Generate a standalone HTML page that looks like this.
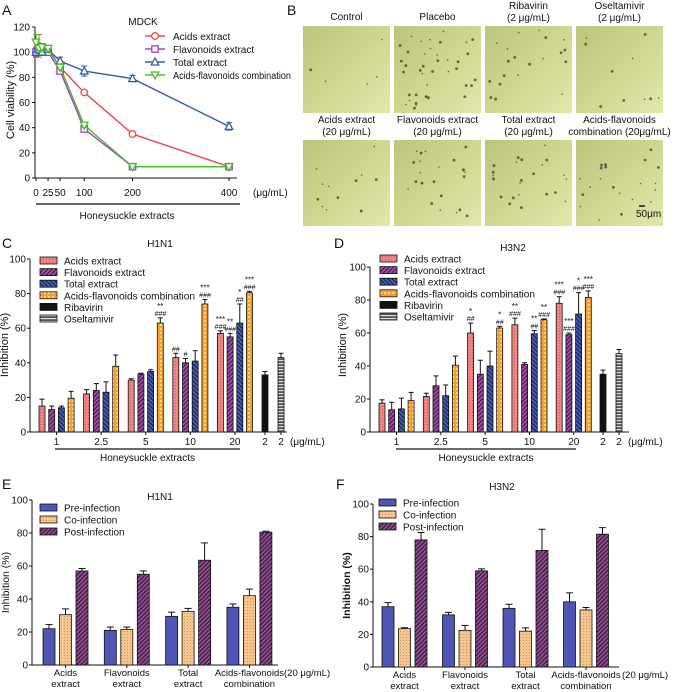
<!DOCTYPE html>
<html><head><meta charset="utf-8">
<style>
html,body{margin:0;padding:0;background:#fff;}
svg{display:block;font-family:"Liberation Sans",sans-serif;}
</style></head>
<body>
<svg id="fig" width="676" height="692" viewBox="0 0 676 692" xmlns="http://www.w3.org/2000/svg">
<defs>
  <pattern id="pDots" width="3" height="3" patternUnits="userSpaceOnUse"><rect width="3" height="3" fill="#f08585"/><circle cx="1.5" cy="1.5" r="0.5" fill="#c05050"/></pattern>
  <pattern id="pFlav" width="3" height="3" patternUnits="userSpaceOnUse" patternTransform="rotate(45)"><rect width="3" height="3" fill="#5a1f5e"/><rect width="1.3" height="3" fill="#b060b0"/></pattern>
  <pattern id="pTotal" width="3" height="3" patternUnits="userSpaceOnUse" patternTransform="rotate(-45)"><rect width="3" height="3" fill="#1e2d6a"/><rect width="1.2" height="3" fill="#5a70c0"/></pattern>
  <pattern id="pCombo" width="4" height="4" patternUnits="userSpaceOnUse"><rect width="4" height="4" fill="#f3a030"/><rect x="0" y="0" width="2" height="2" fill="#fcd68a"/></pattern>
  <pattern id="pOsel" width="3" height="3" patternUnits="userSpaceOnUse"><rect width="3" height="3" fill="#555"/><rect width="3" height="1.2" fill="#ddd"/></pattern>
  <pattern id="pCo" width="3" height="3" patternUnits="userSpaceOnUse"><rect width="3" height="3" fill="#f7c590"/><circle cx="1.5" cy="1.5" r="0.5" fill="#c0844a"/></pattern>
  <pattern id="pPost" width="3" height="3" patternUnits="userSpaceOnUse" patternTransform="rotate(45)"><rect width="3" height="3" fill="#4e1f50"/><rect width="1.2" height="3" fill="#a060a0"/></pattern>
  <linearGradient id="gImg" x1="0" y1="0" x2="1" y2="1"><stop offset="0" stop-color="#bcc57c"/><stop offset="0.6" stop-color="#d3da95"/><stop offset="1" stop-color="#e2e8ab"/></linearGradient>
</defs>
</svg>
<script>
// ---------- Panel A data ----------
const aDoses = [0, 6.25, 12.5, 25, 50, 100, 200, 400];
const aAcids = [100, 105, 102, 102, 88, 68, 35, 9];
const aAcidsErr = [4, 9, 3, 3, 2, 1.5, 1.5, 1];
const aFlav = [100, 100, 100, 100, 85, 39, 9, 9];
const aFlavErr = [3, 2, 2, 2, 2, 2, 1, 1];
const aTotal = [100, 102, 100, 102, 93, 85, 79, 41];
const aTotalErr = [3, 3, 2, 2, 3, 4, 2.5, 3];
const aCombo = [108, 103, 104, 103, 88, 42, 9, 9];
const aComboErr = [6, 3, 3, 2, 2, 2, 1, 1];
const aTickVals = [0, 25, 50, 100, 200, 400];
const aYTicks = [0, 20, 40, 60, 80, 100, 120];

// ---------- Panel C / D data ----------
const cdCats = ["1", "2.5", "5", "10", "20"];
const cAcids = [15, 22, 30, 43, 57];
const cAcidsErr = [4, 2.5, 0.8, 2.5, 1.5];
const cFlav = [13, 24, 33.5, 40, 55];
const cFlavErr = [2, 4, 0.5, 2.5, 2];
const cTotal = [14, 23, 35, 41, 63];
const cTotalErr = [1, 6, 1, 6, 11];
const cCombo = [19.5, 38, 63, 74, 80.5];
const cComboErr = [4, 6.5, 3, 2.5, 0.8];
const cRib = 33, cRibErr = 2;
const cOsel = 43, cOselErr = 2.5;
const cStars = [["","","",""],["","","",""],["","","","**"],["","","","***"],["***","**","*","***"]];
const cHash = [["","","",""],["","","",""],["","","","###"],["##","#","","###"],["###","###","##","###"]];

const dAcids = [17.5, 21.5, 60, 65, 78];
const dAcidsErr = [2, 2, 6, 4, 4];
const dFlav = [13.5, 28, 35, 41, 59];
const dFlavErr = [4.5, 6, 8.5, 1, 1];
const dTotal = [14, 22, 40, 59.5, 71.5];
const dTotalErr = [6.5, 6.5, 9, 2, 13];
const dCombo = [19, 40.5, 63, 68, 81.5];
const dComboErr = [5, 5.5, 1, 0.5, 4];
const dRib = 35, dRibErr = 2.5;
const dOsel = 47.5, dOselErr = 2.5;
const dStars = [["","","",""],["","","",""],["*","","","*"],["**","","**","**"],["***","***","*","***"]];
const dHash = [["","","",""],["","","",""],["##","","","##"],["###","","##","###"],["###","###","###","###"]];
const cdYTicks = [0, 20, 40, 60, 80, 100];

// ---------- Panel E / F data ----------
const efCats = [["Acids","extract"],["Flavonoids","extract"],["Total","extract"],["Acids-flavonoids","combination"]];
const ePre = [22, 21, 29.5, 35];
const ePreErr = [2.5, 2, 2.5, 2];
const eCo = [30.5, 21.5, 32.5, 42];
const eCoErr = [3.5, 1.5, 1.8, 4];
const ePost = [57, 55, 63.5, 80.5];
const ePostErr = [1.5, 2, 10.5, 0.6];
const fPre = [37, 32, 36, 40];
const fPreErr = [2.5, 1.5, 2.5, 5.5];
const fCo = [23.5, 22.5, 22, 35];
const fCoErr = [0.6, 3, 2, 1.5];
const fPost = [78, 59, 71.5, 81.5];
const fPostErr = [4.5, 1.2, 13, 4];

const NS = "http://www.w3.org/2000/svg";
const svg = document.getElementById("fig");
function el(tag, attrs, parent) {
  const e = document.createElementNS(NS, tag);
  for (const k in attrs) e.setAttribute(k, attrs[k]);
  (parent || svg).appendChild(e);
  return e;
}
function txt(x, y, s, size, anchor, parent, extra) {
  const t = el("text", Object.assign({x: x, y: y, "font-size": size, "text-anchor": anchor || "start", fill: "#111"}, extra || {}), parent);
  t.textContent = s;
  return t;
}
function group(name) {
  const g = el("g", {});
  
  
  return g;
}
function errBar(g, x, yTop, yErr, cap, color) {
  el("line", {x1: x, y1: yTop, x2: x, y2: yErr, stroke: color || "#111", "stroke-width": 1}, g);
  el("line", {x1: x - cap, y1: yErr, x2: x + cap, y2: yErr, stroke: color || "#111", "stroke-width": 1}, g);
}

// ---------- Panel letters ----------
[["A",2,15],["B",287,15],["C",2,248],["D",334,248],["E",2,489],["F",336,489]].forEach(p => {
  const t = txt(p[1], p[2], p[0], 14, "start");
  
  
});

// ---------- Panel A ----------
(function () {
  const g = group("panel-a-line-chart");
  const x0 = 36, xs = 193 / 400, y0 = 178, ys = 151 / 120;
  const X = v => x0 + v * xs, Y = v => y0 - v * ys;
  const ax = el("g", {}, g);
  
  
  el("line", {x1: 35, y1: Y(120), x2: 35, y2: y0, stroke: "#111"}, ax);
  aYTicks.forEach(v => {
    el("line", {x1: 32, y1: Y(v), x2: 35, y2: Y(v), stroke: "#111"}, ax);
    txt(30, Y(v) + 3.5, String(v), 10, "end", ax);
  });
  const t = txt(14, 100, "Cell viability (%)", 11, "middle", g, {transform: "rotate(-90 14 100)"});
  
  
  const xa = el("g", {}, g);
  
  
  el("line", {x1: 35, y1: y0, x2: X(400) + 8, y2: y0, stroke: "#111"}, xa);
  aTickVals.forEach(v => {
    el("line", {x1: X(v), y1: y0, x2: X(v), y2: y0 + 3, stroke: "#111"}, xa);
    txt(X(v), 196, String(v), 10, "middle", xa);
  });
  txt(253, 196, "(μg/mL)", 10, "start", xa);
  el("line", {x1: 36, y1: 204, x2: 240, y2: 204, stroke: "#111", "stroke-width": 1.2}, xa);
  txt(127, 219, "Honeysuckle extracts", 10, "middle", xa);
  const tt = txt(143, 25, "MDCK", 10, "middle", g);
  
  
  const series = [
    ["acids-extract", "Acids extract", aAcids, aAcidsErr, "#f04848", "circle", 0],
    ["flavonoids-extract", "Flavonoids extract", aFlav, aFlavErr, "#a640d0", "square", 0],
    ["total-extract", "Total extract", aTotal, aTotalErr, "#3a5cb0", "tri", 0],
    ["acids-flavonoids-combination", "Acids-flavonoids combination", aCombo, aComboErr, "#48c028", "tridown", 118]
  ];
  function marker(p, x, y, shape, c) {
    if (shape === "circle") return el("circle", {cx: x, cy: y, r: 3.3, fill: "#fff", stroke: c, "stroke-width": 1.3}, p);
    if (shape === "square") return el("rect", {x: x - 3.2, y: y - 3.2, width: 6.4, height: 6.4, fill: "#fff", stroke: c, "stroke-width": 1.3}, p);
    if (shape === "tri") return el("polygon", {points: `${x},${y-4} ${x-3.8},${y+3} ${x+3.8},${y+3}`, fill: "#fff", stroke: c, "stroke-width": 1.3}, p);
    return el("polygon", {points: `${x},${y+4} ${x-3.8},${y-3} ${x+3.8},${y-3}`, fill: "#fff", stroke: c, "stroke-width": 1.3}, p);
  }
  series.forEach((s, si) => {
    const sg = el("g", {}, g);
    
    
    const pts = aDoses.map((d, i) => X(d) + "," + Y(s[2][i])).join(" ");
    el("polyline", {points: pts, fill: "none", stroke: s[4], "stroke-width": 1.4}, sg);
    aDoses.forEach((d, i) => {
      errBar(sg, X(d), Y(s[2][i]), Y(s[2][i] + s[3][i]), 3, s[4]);
      errBar(sg, X(d), Y(s[2][i]), Y(s[2][i] - s[3][i]), 3, s[4]);
      const m = marker(sg, X(d), Y(s[2][i]), s[5], s[4]);
      
      
    });
    const lg = el("g", {}, g);
    
    
    const ly = 36 + si * 13;
    el("line", {x1: 145, y1: ly, x2: 165, y2: ly, stroke: s[4], "stroke-width": 1.4}, lg);
    marker(lg, 155, ly, s[5], s[4]);
    const ex = s[6] ? {textLength: s[6], lengthAdjust: "spacingAndGlyphs"} : {};
    txt(173, ly + 4, s[1], 10, "start", lg, ex);
  });
})();

// ---------- Panel B ----------
(function () {
  const g = group("panel-b-micrographs");
  const cols = [303, 394, 485, 576];
  const w = 87;
  const rows = [[26, 113], [140, 226]];
  const labels = [
    [["Control"], ["Placebo"], ["Ribavirin", "(2 μg/mL)"], ["Oseltamivir", "(2 μg/mL)"]],
    [["Acids extract", "(20 μg/mL)"], ["Flavonoids  extract", "(20 μg/mL)"], ["Total extract", "(20 μg/mL)"], ["Acids-flavonoids", "combination (20μg/mL)"]]
  ];
  const spots = [[3, 40, 4, 1], [5, 25, 16, 24], [3, 35, 8, 12], [2, 30, 4, 6], [2, 35, 7, 5], [3, 30, 10, 13], [3, 30, 9, 14], [5, 20, 11, 10]];
  let k = 0;
  rows.forEach((r, ri) => {
    cols.forEach((cx, ci) => {
      const ig = el("g", {}, g);
      
      
      el("rect", {x: cx, y: r[0], width: w, height: r[1] - r[0], fill: "url(#gImg)"}, ig);
      const sp = spots[k++];
      let seed = (ri * 4 + ci + 1) * 9301;
      const rnd = () => { seed = (seed * 9301 + 49297) % 233280; return seed / 233280; };
      const n = sp[2] + sp[3];
      for (let i = 0; i < n; i++) {
        el("circle", {cx: cx + 4 + rnd() * (w - 8), cy: r[0] + 4 + rnd() * (r[1] - r[0] - 8), r: i < sp[3] ? 1.4 : 0.8, fill: "#3a3f2a", opacity: 0.75}, ig);
      }
      const lab = labels[ri][ci];
      const mid = cx + w / 2;
      if (lab.length === 1) txt(mid, r[0] - 6, lab[0], 10, "middle", ig);
      else { txt(mid, r[0] - 17, lab[0], 10, "middle", ig); txt(mid, r[0] - 5, lab[1], 10, "middle", ig); }
    });
  });
  const sb = el("g", {}, g);
  
  
  el("line", {x1: 639, y1: 206, x2: 645, y2: 206, stroke: "#111", "stroke-width": 1.5}, sb);
  txt(636, 217, "50μm", 10, "start", sb);
})();

// ---------- Panel C / D ----------
function drawCD(cfg) {
  const g = group(cfg.name);
  const Y = v => cfg.y0 - v * cfg.ys;
  const ax = el("g", {}, g);
  
  
  el("line", {x1: cfg.ax, y1: Y(100), x2: cfg.ax, y2: cfg.y0, stroke: "#111"}, ax);
  cdYTicks.forEach(v => {
    el("line", {x1: cfg.ax - 3, y1: Y(v), x2: cfg.ax, y2: Y(v), stroke: "#111"}, ax);
    txt(cfg.ax - 4, Y(v) + 3.5, String(v), 10, "end", ax);
  });
  const yt = txt(cfg.ytx, 345, "Inhibition (%)", 11, "middle", g, {transform: `rotate(-90 ${cfg.ytx} 345)`});
  
  
  const xa = el("g", {}, g);
  
  
  el("line", {x1: cfg.ax, y1: cfg.y0, x2: cfg.xEnd, y2: cfg.y0, stroke: "#111"}, xa);
  const bw = 6;
  const pos = (gi, i) => cfg.gx + gi * cfg.gp + i * 9.7;
  const fills = ["url(#pDots)", "url(#pFlav)", "url(#pTotal)", "url(#pCombo)"];
  const keys = ["acids", "flavonoids", "total", "combination"];
  cdCats.forEach((c, gi) => {
    const cx = (pos(gi, 0) + pos(gi, 3)) / 2;
    el("line", {x1: cx, y1: cfg.y0, x2: cx, y2: cfg.y0 + 3, stroke: "#111"}, xa);
    txt(cx, cfg.y0 + 13, c, 10, "middle", xa);
    cfg.series.forEach((s, si) => {
      const x = pos(gi, si), v = s[0][gi], e = s[1][gi];
      errBar(g, x, Y(v), Y(v + e), 2.5);
      const b = el("rect", {x: x - bw / 2, y: Y(v), width: bw, height: cfg.y0 - Y(v), fill: fills[si], stroke: "#111", "stroke-width": 0.8}, g);
      
      
      const h = cfg.hash[gi][si], st = cfg.stars[gi][si];
      if (h) txt(x, Y(v + e) - 2, h, 7, "middle", g, {"font-style": "italic"});
      if (st) txt(x, Y(v + e) - (h ? 9 : 2), st, 8, "middle", g);
    });
  });
  [[cfg.rib, cfg.ribErr, cfg.ribX, "#111", "bar-ribavirin"], [cfg.osel, cfg.oselErr, cfg.oselX, "url(#pOsel)", "bar-oseltamivir"]].forEach(r => {
    errBar(g, r[2], Y(r[0]), Y(r[0] + r[1]), 2.5);
    const b = el("rect", {x: r[2] - bw / 2, y: Y(r[0]), width: bw, height: cfg.y0 - Y(r[0]), fill: r[3], stroke: "#111", "stroke-width": 0.8}, g);
    
    
    el("line", {x1: r[2], y1: cfg.y0, x2: r[2], y2: cfg.y0 + 3, stroke: "#111"}, xa);
    txt(r[2], cfg.y0 + 13, "2", 10, "middle", xa);
  });
  txt(cfg.oselX + 9, cfg.y0 + 13, "(μg/mL)", 10, "start", xa);
  el("line", {x1: cfg.ulx1, y1: cfg.y0 + 17, x2: cfg.ulx2, y2: cfg.y0 + 17, stroke: "#111", "stroke-width": 1.2}, xa);
  txt((cfg.ulx1 + cfg.ulx2) / 2, cfg.y0 + 29, "Honeysuckle extracts", 10, "middle", xa);
  const tt = txt(cfg.titleX, cfg.titleY, cfg.title, 10, "middle", g);
  
  
  const lf = [...fills, "#111", "url(#pOsel)"];
  const ln = ["Acids extract", "Flavonoids extract", "Total extract", "Acids-flavonoids combination", "Ribavirin", "Oseltamivir"];
  ln.forEach((n, i) => {
    const lg = el("g", {}, g);
    
    
    const ly = cfg.legY + i * 11.6;
    el("rect", {x: cfg.legX, y: ly - 4, width: 17, height: 7, fill: lf[i], stroke: "#111", "stroke-width": 0.8}, lg);
    const ex = i === 3 ? {textLength: 131, lengthAdjust: "spacingAndGlyphs"} : {};
    txt(cfg.legX + 24, ly + 3.5, n, 10, "start", lg, ex);
  });
}
drawCD({name: "panel-c-h1n1-bar-chart", ax: 30, y0: 432, ys: 1.73, xEnd: 287, gx: 42, gp: 44.6, ytx: 8,
  series: [[cAcids, cAcidsErr], [cFlav, cFlavErr], [cTotal, cTotalErr], [cCombo, cComboErr]],
  stars: cStars, hash: cHash, rib: cRib, ribErr: cRibErr, osel: cOsel, oselErr: cOselErr, ribX: 265, oselX: 281,
  ulx1: 55, ulx2: 240, title: "H1N1", titleX: 160, titleY: 247, legX: 40, legY: 261});
drawCD({name: "panel-d-h3n2-bar-chart", ax: 370, y0: 432, ys: 1.65, xEnd: 629, gx: 382, gp: 44.3, ytx: 346,
  series: [[dAcids, dAcidsErr], [dFlav, dFlavErr], [dTotal, dTotalErr], [dCombo, dComboErr]],
  stars: dStars, hash: dHash, rib: dRib, ribErr: dRibErr, osel: dOsel, oselErr: dOselErr, ribX: 603, oselX: 619,
  ulx1: 396, ulx2: 576, title: "H3N2", titleX: 513, titleY: 251, legX: 380, legY: 259});

// ---------- Panel E / F ----------
function drawEF(cfg) {
  const g = group(cfg.name);
  const Y = v => cfg.y0 - v * cfg.ys;
  const ax = el("g", {}, g);
  
  
  el("line", {x1: cfg.ax, y1: Y(100), x2: cfg.ax, y2: cfg.y0, stroke: "#111"}, ax);
  cdYTicks.forEach(v => {
    el("line", {x1: cfg.ax - 3, y1: Y(v), x2: cfg.ax, y2: Y(v), stroke: "#111"}, ax);
    txt(cfg.ax - 4, Y(v) + 3.5, String(v), 10, "end", ax);
  });
  const my = (Y(100) + cfg.y0) / 2;
  const yt = txt(cfg.ytx, my, "Inhibition (%)", 10.5, "middle", g, {transform: `rotate(-90 ${cfg.ytx} ${my})`, "font-weight": cfg.bold ? "bold" : "normal"});
  
  
  const xa = el("g", {}, g);
  
  
  el("line", {x1: cfg.ax, y1: cfg.y0, x2: cfg.xEnd, y2: cfg.y0, stroke: "#111"}, xa);
  const bw = 12;
  const fills = ["#4f55b5", "url(#pCo)", "url(#pPost)"];
  const keys = ["pre-infection", "co-infection", "post-infection"];
  efCats.forEach((c, gi) => {
    const x1 = cfg.gx + gi * cfg.gp;
    const cx = x1 + 16.5;
    el("line", {x1: cx, y1: cfg.y0, x2: cx, y2: cfg.y0 + 3, stroke: "#111"}, xa);
    txt(cx, cfg.y0 + 11, c[0], 9.5, "middle", xa);
    txt(cx, cfg.y0 + 22, c[1], 9.5, "middle", xa);
    cfg.series.forEach((s, si) => {
      const x = x1 + si * 16.5, v = s[0][gi], e = s[1][gi];
      errBar(g, x, Y(v), Y(v + e), 3.5);
      const b = el("rect", {x: x - bw / 2, y: Y(v), width: bw, height: cfg.y0 - Y(v), fill: fills[si], stroke: "#111", "stroke-width": 0.8}, g);
      
      
    });
  });
  txt(cfg.unitX, cfg.y0 + 11, "(20 μg/mL)", 9.5, "start", xa);
  const tt = txt(cfg.titleX, cfg.titleY, cfg.title, 10, "middle", g);
  
  
  ["Pre-infection", "Co-infection", "Post-infection"].forEach((n, i) => {
    const lg = el("g", {}, g);
    
    
    const ly = cfg.legY + i * 12;
    el("rect", {x: cfg.legX, y: ly - 4, width: 17, height: 7, fill: fills[i], stroke: "#111", "stroke-width": 0.8}, lg);
    txt(cfg.legX + 24, ly + 3.5, n, 10, "start", lg);
  });
}
drawEF({name: "panel-e-h1n1-infection-stage-chart", ax: 32, y0: 665, ys: 1.65, xEnd: 278, gx: 49, gp: 61.3, ytx: 9,
  series: [[ePre, ePreErr], [eCo, eCoErr], [ePost, ePostErr]], unitX: 284,
  title: "H1N1", titleX: 160, titleY: 500, legX: 40, legY: 508});
drawEF({name: "panel-f-h3n2-infection-stage-chart", ax: 373, y0: 667, ys: 1.63, xEnd: 619, gx: 388, gp: 60.5, ytx: 350, bold: true,
  series: [[fPre, fPreErr], [fCo, fCoErr], [fPost, fPostErr]], unitX: 622,
  title: "H3N2", titleX: 502, titleY: 490, legX: 379, legY: 503});
</script>
</body></html>
